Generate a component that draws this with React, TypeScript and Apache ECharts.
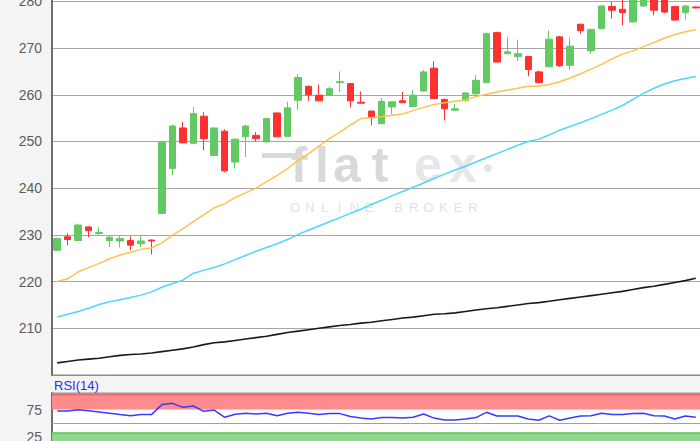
import React, { useEffect, useRef } from "react";
import * as echarts from "echarts";

const opens = [226.7, 229.6, 228.8, 231.7, 230.3, 228.8, 228.7, 228.8, 228.1, 228.9, 234.6, 244.2, 252.9, 249.6, 255.4, 247.0, 252.2, 245.6, 251.0, 251.3, 249.9, 256.1, 251.1, 258.8, 261.8, 259.9, 259.9, 262.6, 262.4, 258.4, 256.5, 253.8, 257.4, 258.7, 257.5, 260.8, 265.7, 259.0, 256.7, 258.8, 260.2, 262.6, 273.3, 268.8, 268.2, 268.2, 264.9, 266.0, 272.4, 266.3, 275.1, 269.4, 274.2, 278.9, 278.3, 275.6, 279.0, 281.0, 280.5, 278.9, 277.6, 278.8];
const closes = [229.2, 229.0, 232.1, 230.9, 230.5, 229.5, 229.2, 227.8, 228.7, 228.7, 249.8, 253.3, 249.7, 256.0, 250.6, 252.9, 243.7, 250.5, 253.3, 250.6, 254.9, 251.0, 257.2, 263.7, 260.0, 258.7, 261.3, 262.8, 258.7, 258.2, 255.3, 258.6, 258.5, 258.3, 259.9, 264.9, 259.2, 257.0, 257.0, 260.4, 263.1, 273.1, 267.0, 269.2, 268.8, 265.4, 262.6, 271.9, 266.2, 270.4, 273.7, 274.0, 279.0, 278.1, 277.6, 281.0, 281.5, 278.1, 277.7, 276.0, 279.0, 278.6];
const lows = [226.5, 227.8, 228.7, 229.5, 229.9, 227.4, 227.3, 226.7, 227.4, 225.8, 234.6, 242.8, 249.6, 249.4, 248.1, 247.0, 243.4, 244.2, 246.7, 250.0, 249.8, 250.9, 251.0, 256.7, 258.7, 258.6, 259.8, 260.6, 257.3, 258.1, 253.5, 253.7, 255.8, 258.2, 257.4, 260.7, 259.1, 254.5, 256.6, 258.5, 259.9, 262.5, 266.9, 268.7, 267.2, 264.0, 262.5, 265.9, 266.0, 265.4, 273.1, 268.8, 274.0, 276.3, 274.9, 275.5, 278.9, 277.0, 277.5, 275.9, 276.1, 278.5];
const highs = [229.4, 230.3, 232.4, 231.8, 231.6, 229.9, 230.0, 229.7, 229.7, 229.0, 250.0, 253.6, 254.2, 257.4, 256.3, 253.0, 252.6, 250.6, 253.6, 252.0, 255.0, 256.2, 258.5, 264.4, 262.0, 262.2, 261.7, 265.0, 262.5, 260.7, 256.6, 259.3, 258.6, 260.6, 261.0, 265.3, 267.2, 259.2, 258.1, 260.5, 264.2, 273.3, 273.5, 272.3, 271.8, 268.3, 265.2, 273.8, 272.6, 272.2, 275.2, 274.1, 279.2, 280.0, 281.0, 281.5, 282.0, 281.2, 281.0, 279.0, 279.2, 278.9];

const maShort = [220.0, 220.6, 222.1, 223.0, 223.9, 224.9, 225.7, 226.3, 226.9, 227.2, 228.3, 229.9, 231.3, 232.9, 234.3, 235.8, 236.7, 238.0, 239.0, 240.0, 241.4, 242.7, 244.2, 245.9, 247.4, 249.0, 250.6, 252.0, 253.5, 254.9, 255.1, 255.3, 255.6, 255.9, 256.6, 257.3, 257.9, 258.3, 258.6, 258.9, 259.6, 260.1, 260.6, 261.0, 261.4, 261.8, 261.8, 262.2, 262.8, 263.6, 264.5, 265.5, 266.5, 267.7, 268.7, 269.4, 270.3, 271.2, 272.1, 272.9, 273.5, 273.9];
const maMid = [212.4, 213.0, 213.6, 214.3, 215.1, 215.7, 216.1, 216.6, 217.1, 217.8, 218.8, 219.6, 220.3, 221.8, 222.4, 223.0, 223.8, 224.7, 225.6, 226.5, 227.3, 228.1, 229.0, 230.1, 231.0, 231.9, 232.8, 233.7, 234.6, 235.5, 236.5, 237.4, 238.4, 239.3, 240.2, 241.1, 242.1, 243.0, 243.9, 244.7, 245.6, 246.5, 247.4, 248.3, 249.2, 250.0, 250.5, 251.4, 252.4, 253.2, 254.0, 254.9, 255.8, 256.7, 257.7, 259.0, 260.3, 261.4, 262.3, 263.0, 263.5, 263.9];
const maLong = [202.6, 202.9, 203.2, 203.4, 203.6, 203.9, 204.2, 204.4, 204.5, 204.7, 205.0, 205.3, 205.6, 206.0, 206.5, 206.9, 207.1, 207.4, 207.7, 208.0, 208.3, 208.7, 209.1, 209.4, 209.7, 210.0, 210.3, 210.6, 210.8, 211.1, 211.3, 211.6, 211.9, 212.2, 212.4, 212.7, 213.0, 213.1, 213.3, 213.6, 213.9, 214.2, 214.4, 214.7, 215.0, 215.3, 215.5, 215.8, 216.1, 216.4, 216.7, 217.0, 217.3, 217.6, 217.9, 218.3, 218.7, 219.0, 219.4, 219.8, 220.2, 220.7];
const rsi14 = [72.6, 72.6, 74.5, 72.8, 70.8, 68.5, 66.2, 64.0, 65.9, 65.9, 84.0, 86.3, 79.0, 81.5, 71.8, 74.2, 61.0, 66.5, 68.2, 67.1, 68.2, 64.0, 68.2, 70.0, 68.2, 65.9, 67.7, 67.7, 62.3, 59.9, 58.1, 60.5, 60.5, 59.6, 61.0, 67.1, 59.6, 56.3, 56.3, 58.1, 60.5, 70.0, 63.5, 63.5, 63.5, 58.1, 55.6, 63.5, 55.6, 59.9, 63.5, 64.0, 68.2, 65.9, 65.9, 67.7, 68.2, 64.0, 63.5, 58.1, 63.5, 61.0];

const rsiLabels = [25, 75];
const categories = opens.map((_, i) => `D${i + 1}`);

const FONT = 'Arial, "Liberation Sans", sans-serif';

export default function App() {
  const ref = useRef<HTMLDivElement>(null);

  useEffect(() => {
    const chart = echarts.init(ref.current as HTMLDivElement, null, { renderer: "svg" });
    const candleData = opens.map((o, i) => [o, closes[i], lows[i], highs[i]]);

    const wm = "flatex".split("");
    const wmX = [299, 322, 347, 380, 428, 463];
    const wmColor = ["#d9d9d9", "#d9d9d9", "#d9d9d9", "#d9d9d9", "#e7e7e7", "#e7e7e7"];
    const sub = "ONLINE BROKER".split("");

    const graphics: any[] = [
      {
        type: "rect",
        z: 1,
        silent: true,
        shape: { x: 262, y: 153, width: 34, height: 5 },
        style: { fill: "#d9d9d9" },
      },
      ...wm.map((ch, i) => ({
        type: "text",
        z: 1,
        silent: true,
        x: wmX[i],
        y: 165,
        style: {
          text: ch,
          fill: wmColor[i],
          fontSize: 50,
          fontWeight: "bold",
          fontFamily: FONT,
          align: "center",
          verticalAlign: "middle",
          textAlign: "center",
          textVerticalAlign: "middle",
        },
      })),
      {
        type: "circle",
        z: 1,
        silent: true,
        shape: { cx: 488, cy: 168, r: 4 },
        style: { fill: "#e2e2e2" },
      },
      ...sub.map((ch, i) => ({
        type: "text",
        z: 1,
        silent: true,
        x: 295 + i * 14.83,
        y: 207,
        style: {
          text: ch,
          fill: "#e2e2e2",
          fontSize: 13,
          fontFamily: FONT,
          align: "center",
          verticalAlign: "middle",
          textAlign: "center",
          textVerticalAlign: "middle",
        },
      })),
      {
        type: "text",
        z: 5,
        x: 54,
        y: 385.5,
        style: {
          text: "RSI(14)",
          fill: "#2a2aff",
          fontSize: 13,
          fontFamily: FONT,
          align: "left",
          verticalAlign: "middle",
          textAlign: "left",
          textVerticalAlign: "middle",
        },
      },
    ];

    const option: any = {
      animation: false,
      backgroundColor: "#f4f4f4",
      grid: [
        { left: 52, top: -22, width: 649, height: 397, outerBoundsMode: "none", containLabel: false, show: true, backgroundColor: "#ffffff", borderColor: "#8a8a8a", borderWidth: 1 },
        { left: 52, top: 393, width: 649, height: 58, outerBoundsMode: "none", containLabel: false, show: true, backgroundColor: "#ffffff", borderColor: "#999999", borderWidth: 1 },
      ],
      xAxis: [
        {
          type: "category",
          gridIndex: 0,
          data: categories,
          boundaryGap: true,
          axisLine: { show: true, lineStyle: { color: "#8a8a8a", width: 1 } },
          axisTick: { show: false },
          axisLabel: { show: false },
          splitLine: { show: false },
        },
        {
          type: "category",
          gridIndex: 1,
          data: categories,
          boundaryGap: true,
          axisLine: { show: false },
          axisTick: { show: false },
          axisLabel: { show: false },
          splitLine: { show: false },
        },
      ],
      yAxis: [
        {
          type: "value",
          gridIndex: 0,
          min: 200,
          max: 285,
          interval: 10,
          position: "left",
          axisLine: { show: true, lineStyle: { color: "#6e6e6e", width: 2 } },
          axisTick: { show: false },
          axisLabel: { color: "#5c5c5c", fontSize: 14, fontFamily: FONT, margin: 10, showMinLabel: false, showMaxLabel: false },
          splitLine: { show: true, lineStyle: { color: "#a6a6a6", width: 1 } },
        },
        {
          type: "value",
          gridIndex: 1,
          min: 0,
          max: 105,
          interval: 25,
          position: "left",
          axisLine: { show: true, lineStyle: { color: "#6e6e6e", width: 2 } },
          axisTick: { show: false },
          axisLabel: {
            color: "#5c5c5c",
            fontSize: 14,
            fontFamily: FONT,
            margin: 10,
            formatter: (v: number) => (rsiLabels.indexOf(v) >= 0 ? String(v) : ""),
          },
          splitLine: { show: false },
        },
      ],
      graphic: { elements: graphics },
      series: [
        {
          type: "candlestick",
          xAxisIndex: 0,
          yAxisIndex: 0,
          data: candleData,
          barWidth: 7,
          z: 3,
          itemStyle: {
            color: "#63c963",
            color0: "#ff3030",
            borderColor: "#63c963",
            borderColor0: "#ff3030",
            borderWidth: 1,
          },
        },
        {
          type: "line",
          xAxisIndex: 0,
          yAxisIndex: 0,
          data: maShort,
          symbol: "none",
          z: 4,
          lineStyle: { color: "#ffc24f", width: 1.5 },
        },
        {
          type: "line",
          xAxisIndex: 0,
          yAxisIndex: 0,
          data: maMid,
          symbol: "none",
          z: 4,
          lineStyle: { color: "#4fd6ff", width: 1.5 },
        },
        {
          type: "line",
          xAxisIndex: 0,
          yAxisIndex: 0,
          data: maLong,
          symbol: "none",
          z: 4,
          lineStyle: { color: "#1a1a1a", width: 1.6 },
        },
        {
          type: "line",
          xAxisIndex: 1,
          yAxisIndex: 1,
          data: rsi14,
          symbol: "none",
          z: 4,
          lineStyle: { color: "#3a3aff", width: 1.5 },
          markArea: {
            silent: true,
            data: [
              [{ yAxis: 75, itemStyle: { color: "#ff8c8c" } }, { yAxis: 105 }],
              [{ yAxis: 100, itemStyle: { color: "#ee7070" } }, { yAxis: 105 }],
              [{ yAxis: 0, itemStyle: { color: "#8fd88f" } }, { yAxis: 34 }],
              [{ yAxis: 31, itemStyle: { color: "#6cc86c" } }, { yAxis: 34 }],
            ],
          },
          markLine: {
            silent: true,
            symbol: "none",
            label: { show: false },
            lineStyle: { color: "#a0a0a0", type: "solid", width: 1 },
            data: [{ yAxis: 50 }],
          },
        },
      ],
    };

    chart.setOption(option);
    return () => chart.dispose();
  }, []);

  return (
    <div
      ref={ref}
      style={{ position: "fixed", left: 0, top: 0, width: 700, height: 441, background: "#f4f4f4" }}
    />
  );
}
